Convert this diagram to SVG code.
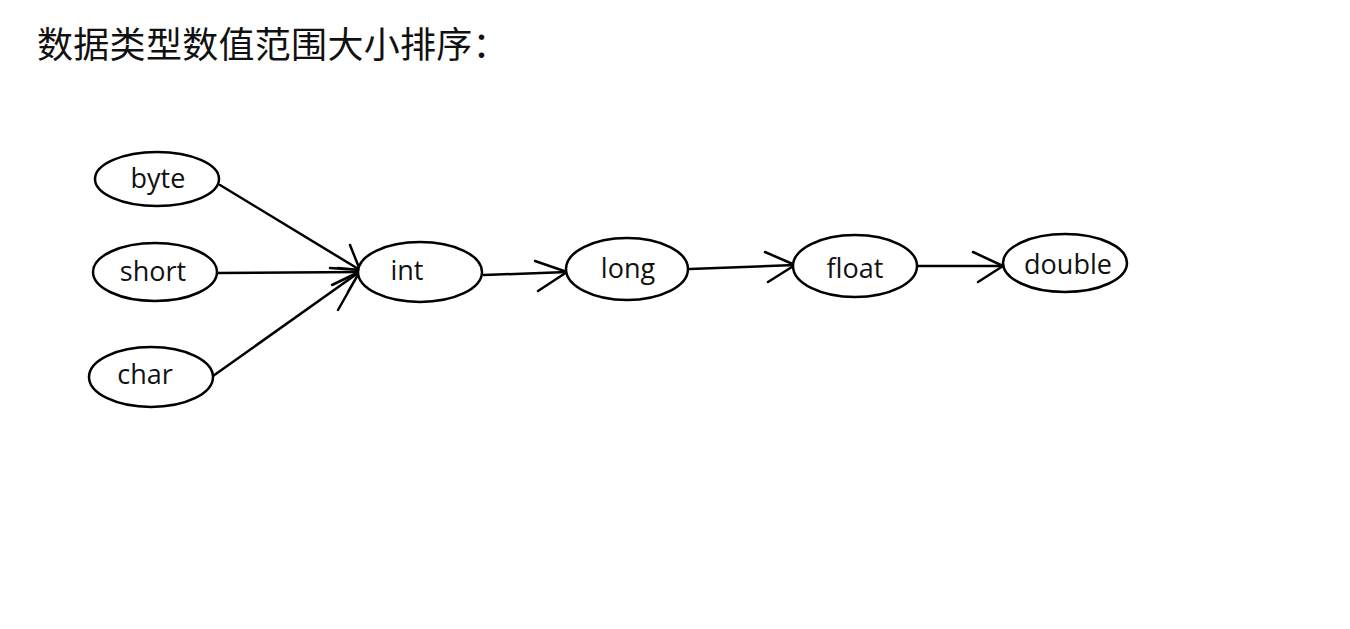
<svg xmlns="http://www.w3.org/2000/svg" width="1350" height="629" viewBox="0 0 1350 629">
<style>
.n{fill:#fff;stroke:#000;stroke-width:2.5}
.t{font-family:"Open Sans","Noto Sans",sans-serif;font-size:27px;fill:#111;text-anchor:middle}
.c{fill:none;stroke:#000;stroke-width:2.5;stroke-linecap:round;stroke-linejoin:round}
.h{font-family:"Noto Sans CJK SC","Noto Sans",sans-serif;font-size:36px;letter-spacing:0.3px;fill:#111}
</style>
<rect width="1350" height="629" fill="#fff"/>
<text class="h" x="37" y="58">数据类型数值范围大小排序：</text>
<g id="connectors">
<path class="c" d="M220,185 L360,270"/>
<path class="c" d="M217,273 L360,272"/>
<path class="c" d="M213,376 L358,273"/>
<path class="c" d="M350,245 L360,270 M338,268 L360,270 L330,268 M332,285 L359,272 M338,310 L359,273 L348,292"/>
<path class="c" d="M484,275 L567,272"/>
<path class="c" d="M535,261 L567,272 L538,291"/>
<path class="c" d="M690,269 L795,265"/>
<path class="c" d="M765,252 L795,265 L768,282"/>
<path class="c" d="M917,266 L1003,266"/>
<path class="c" d="M973,252 L1003,266 L978,282"/>
</g>
<g id="byte"><ellipse class="n" cx="157" cy="179" rx="62" ry="27"/><text class="t" x="158" y="188">byte</text></g>
<g id="short"><ellipse class="n" cx="155" cy="272" rx="62" ry="29"/><text class="t" x="153" y="281">short</text></g>
<g id="char"><ellipse class="n" cx="151" cy="377" rx="62" ry="30"/><text class="t" x="145" y="384">char</text></g>
<g id="int"><ellipse class="n" cx="420" cy="272" rx="62" ry="30"/><text class="t" x="407" y="280">int</text></g>
<g id="long"><ellipse class="n" cx="627" cy="269" rx="61" ry="31"/><text class="t" x="628" y="278">long</text></g>
<g id="float"><ellipse class="n" cx="855" cy="266" rx="62" ry="31"/><text class="t" x="855" y="278">float</text></g>
<g id="double"><ellipse class="n" cx="1065" cy="263" rx="62" ry="29"/><text class="t" x="1068" y="274">double</text></g>
</svg>
